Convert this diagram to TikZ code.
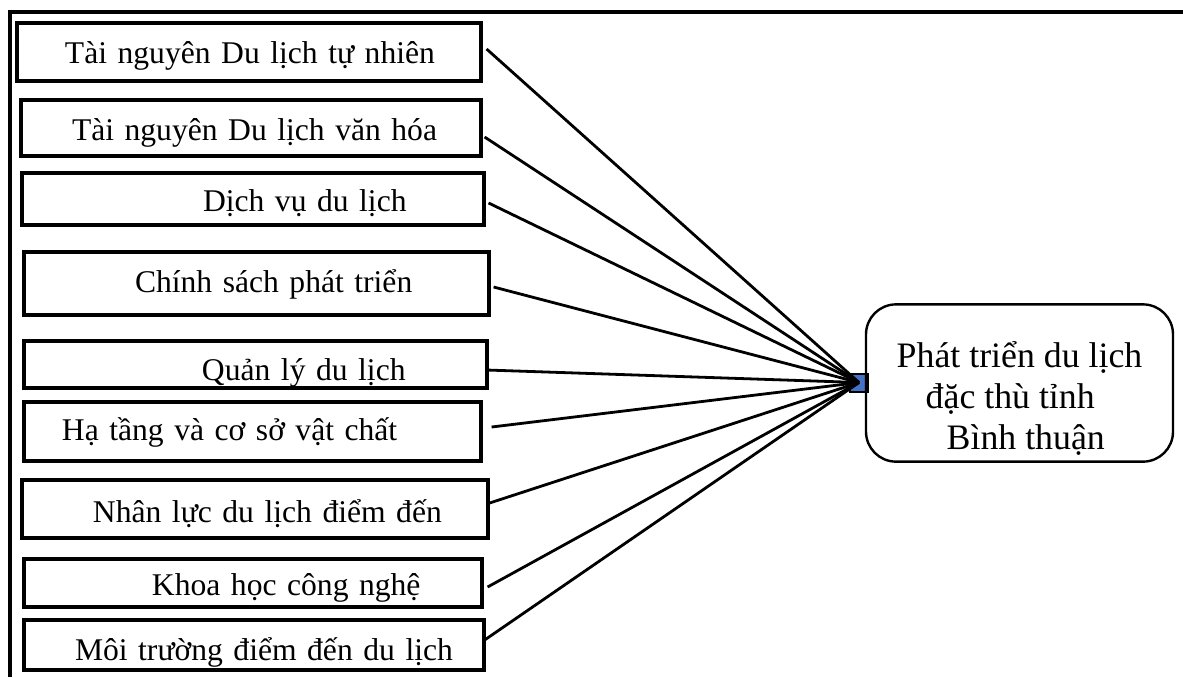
\documentclass[tikz,border=0pt]{standalone}
\usepackage{fontspec}
\setmainfont{Liberation Serif}

\begin{document}
\begin{tikzpicture}[x=0.5pt, y=-0.5pt]
\tikzset{hop/.style={draw, line width=1.6pt, inner sep=0pt, align=left, text height=15pt, text depth=3pt, font=\fontsize{15.8}{20.5}\selectfont},
         noi/.style={line width=1.4pt}}
\useasboundingbox (0,0) rectangle (1183,677);
\draw[line width=1.6pt] (10,677) -- (10,12) -- (1183,12);
\node[hop, text width=232pt, minimum height=29pt, text height=14pt] (Y1) at (249,52) {\hspace*{24pt}Tài nguyên Du lịch tự nhiên};
\node[hop, text width=230pt, minimum height=28pt] (Y2) at (251,128) {\hspace*{25.5pt}Tài nguyên Du lịch văn hóa};
\node[hop, text width=231pt, minimum height=26pt] (Y3) at (253,199) {\hspace*{90.5pt}Dịch vụ du lịch};
\node[hop, text width=232.5pt, minimum height=31.5pt, text height=11.5pt] (Y4) at (256.5,283.5) {\hspace*{55.5pt}Chính sách phát triển};
\node[hop, text width=231.5pt, minimum height=23.5pt, text height=18.5pt] (Y5) at (255.5,364.5) {\hspace*{89pt}Quản lý du lịch};
\node[hop, text width=228.5pt, minimum height=29.5pt, text height=11.5pt] (Y6) at (252.5,431.5) {\hspace*{19pt}Hạ tầng và cơ sở vật chất};
\node[hop, text width=233pt, minimum height=29pt, text height=16pt] (Y7) at (255,509) {\hspace*{35.5pt}Nhân lực du lịch điểm đến};
\node[hop, text width=229pt, minimum height=24pt] (Y8) at (253,583) {\hspace*{64pt}Khoa học công nghệ};
\node[hop, text width=230pt, minimum height=25pt, text height=18pt] (Y9) at (254,645) {\hspace*{25.5pt}Môi trường điểm đến du lịch};
\node[draw=black, fill={rgb,255:red,68;green,114;blue,196}, line width=1pt, minimum size=9pt, inner sep=0pt] (H) at (859,382.5) {};
\draw[noi] ([shift={(4,-3)}]Y1.east) -- (H.center);
\draw[noi] ([shift={(2,9)}]Y2.east) -- (H.center);
\draw[noi] ([shift={(3,4)}]Y3.east) -- (H.center);
\draw[noi] ([shift={(3,3.5)}]Y4.east) -- (H.center);
\draw[noi] ([shift={(-2,5.5)}]Y5.east) -- (H.center);
\draw[noi] ([shift={(9,-4.5)}]Y6.east) -- (H.center);
\draw[noi] ([shift={(0,-6)}]Y7.east) -- (H.center);
\draw[noi] ([shift={(4,4)}]Y8.east) -- (H.center);
\draw[noi] ([shift={(-1,-5)}]Y9.east) -- (H.center);
\node[draw, line width=1.2pt, rounded corners=15pt, minimum width=153.5pt, minimum height=78pt, align=left, font=\fontsize{17.9}{20.5}\selectfont] (P) at (1019.5,383) {\rule{0pt}{28pt}Phát triển du lịch\\\hspace*{14.5pt}đặc thù tỉnh\\\hspace*{25pt}Bình thuận};
\end{tikzpicture}
\end{document}
